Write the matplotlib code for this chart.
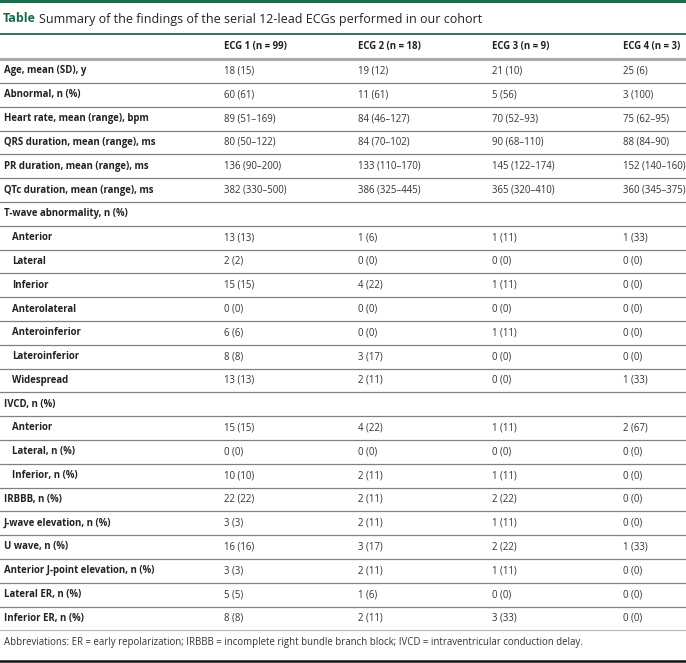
import matplotlib.pyplot as plt

# table content
title_tag = "Table"
title_text = "Summary of the findings of the serial 12-lead ECGs performed in our cohort"
headers = ["ECG 1 (n = 99)", "ECG 2 (n = 18)", "ECG 3 (n = 9)", "ECG 4 (n = 3)"]

labels = ["Age, mean (SD), y", "Abnormal, n (%)", "Heart rate, mean (range), bpm",
          "QRS duration, mean (range), ms", "PR duration, mean (range), ms",
          "QTc duration, mean (range), ms", "T-wave abnormality, n (%)",
          "Anterior", "Lateral", "Inferior", "Anterolateral", "Anteroinferior",
          "Lateroinferior", "Widespread", "IVCD, n (%)", "Anterior", "Lateral, n (%)",
          "Inferior, n (%)", "IRBBB, n (%)", "J-wave elevation, n (%)", "U wave, n (%)",
          "Anterior J-point elevation, n (%)", "Lateral ER, n (%)", "Inferior ER, n (%)"]
indented = [0, 0, 0, 0, 0, 0, 0, 1, 1, 1, 1, 1, 1, 1, 0, 1, 1, 1, 0, 0, 0, 0, 0, 0]

ecg1 = ["18 (15)", "60 (61)", "89 (51–169)", "80 (50–122)", "136 (90–200)", "382 (330–500)", "",
        "13 (13)", "2 (2)", "15 (15)", "0 (0)", "6 (6)", "8 (8)", "13 (13)", "",
        "15 (15)", "0 (0)", "10 (10)", "22 (22)", "3 (3)", "16 (16)", "3 (3)", "5 (5)", "8 (8)"]
ecg2 = ["19 (12)", "11 (61)", "84 (46–127)", "84 (70–102)", "133 (110–170)", "386 (325–445)", "",
        "1 (6)", "0 (0)", "4 (22)", "0 (0)", "0 (0)", "3 (17)", "2 (11)", "",
        "4 (22)", "0 (0)", "2 (11)", "2 (11)", "2 (11)", "3 (17)", "2 (11)", "1 (6)", "2 (11)"]
ecg3 = ["21 (10)", "5 (56)", "70 (52–93)", "90 (68–110)", "145 (122–174)", "365 (320–410)", "",
        "1 (11)", "0 (0)", "1 (11)", "0 (0)", "1 (11)", "0 (0)", "0 (0)", "",
        "1 (11)", "0 (0)", "1 (11)", "2 (22)", "1 (11)", "2 (22)", "1 (11)", "0 (0)", "3 (33)"]
ecg4 = ["25 (6)", "3 (100)", "75 (62–95)", "88 (84–90)", "152 (140–160)", "360 (345–375)", "",
        "1 (33)", "0 (0)", "0 (0)", "0 (0)", "0 (0)", "0 (0)", "1 (33)", "",
        "2 (67)", "0 (0)", "0 (0)", "0 (0)", "0 (0)", "1 (33)", "0 (0)", "0 (0)", "0 (0)"]

footnote = ("Abbreviations: ER = early repolarization; IRBBB = incomplete right bundle branch block; "
            "IVCD = intraventricular conduction delay.")

plt.rcParams['font.family'] = ['Open Sans', 'DejaVu Sans']
green = "#1b6b48"
W, H = 686, 663

fig = plt.figure(figsize=(W / 100, H / 100), dpi=100)
ax = fig.add_axes([0, 0, 1, 1])
ax.set_xlim(0, W)
ax.set_ylim(H, 0)
ax.axis("off")

# top bar and title
ax.axhspan(0, 3, color=green, lw=0)
t = ax.text(3, 19, title_tag, color=green, fontsize=9, fontweight="bold", va="center")
fig.canvas.draw()
bb = t.get_window_extent().transformed(ax.transData.inverted())
ax.text(bb.x1 + 3.5, 19, title_text, color="#222222", fontsize=9, va="center")
ax.axhline(34, color=green, lw=1.3)

col_x = [224, 358, 492, 623]
for x, h in zip(col_x, headers):
    ax.text(x, 46, h, fontsize=6.9, fontweight="bold", va="center", color="#222222")
ax.axhline(59, color="#aaaaaa", lw=2.2)

y0, pitch = 71, 23.8
cols = [ecg1, ecg2, ecg3, ecg4]
for i, lab in enumerate(labels):
    y = y0 + i * pitch
    ax.text(4 + 8 * indented[i], y, lab, fontsize=6.9, fontweight="bold", va="center",
            color="#222222")
    for x, c in zip(col_x, cols):
        ax.text(x, y, c[i], fontsize=6.9, va="center", color="#333333")
    if i < len(labels) - 1:
        ax.axhline(y + pitch / 2, color="#808080", lw=0.9)
    else:
        ax.axhline(y + pitch / 2 - 0.5, color="#bbbbbb", lw=0.9)

ax.text(4, 643, footnote, fontsize=6.9, va="center", color="#333333")
ax.axhline(661, color="#111111", lw=1.8)

fig.savefig("out.png", dpi=100)
